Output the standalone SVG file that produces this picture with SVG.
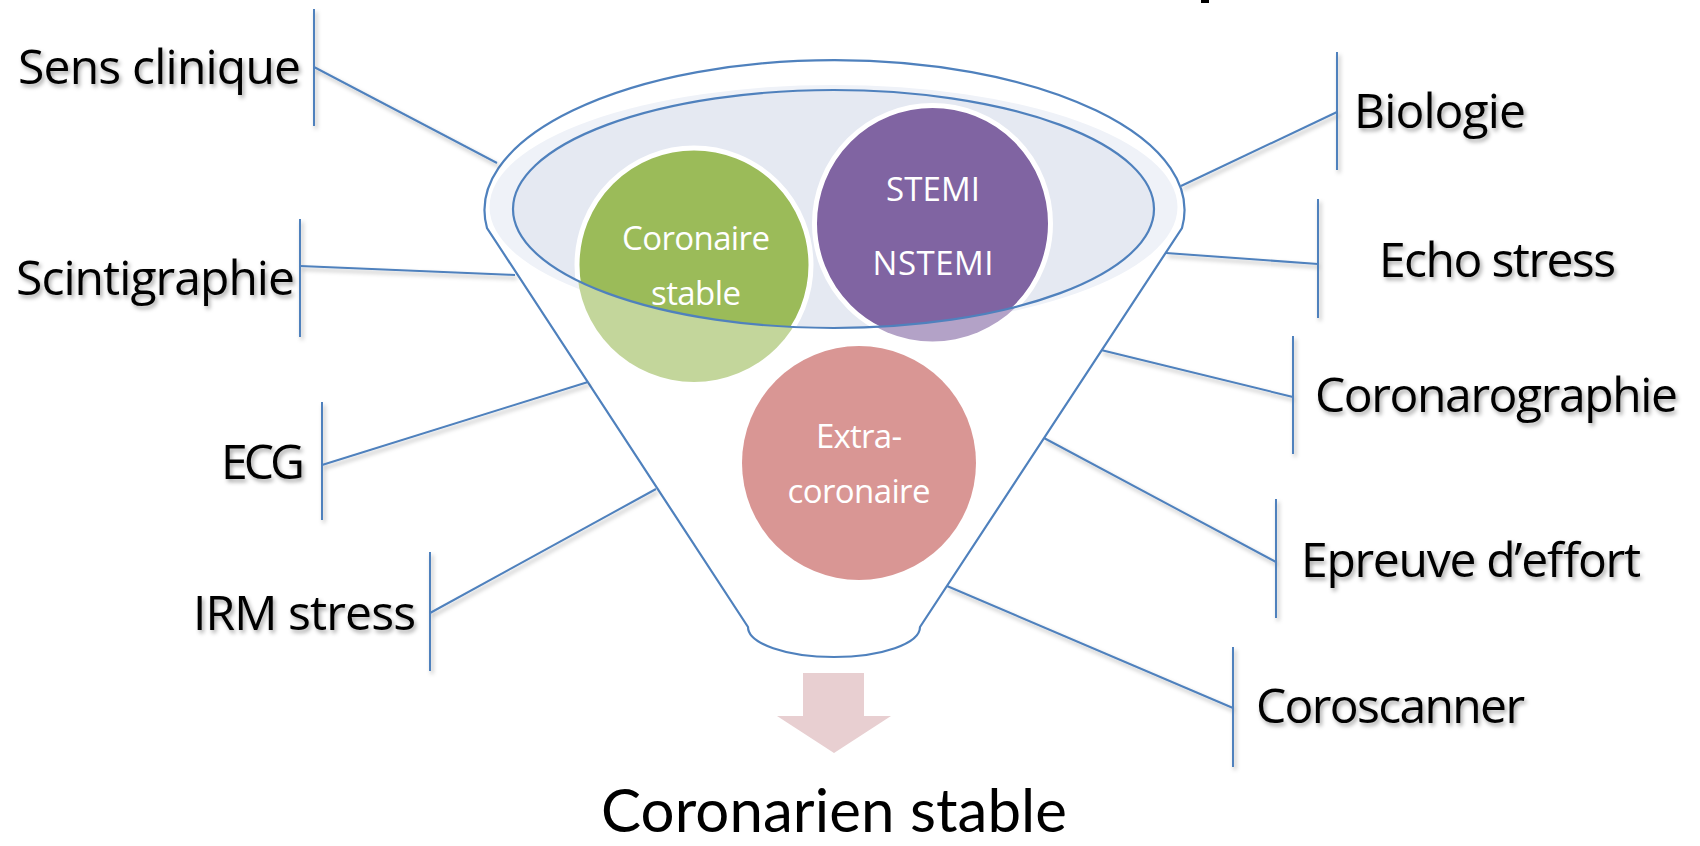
<svg xmlns="http://www.w3.org/2000/svg" width="1700" height="846" viewBox="0 0 1700 846">
<style>
.lbl{font-family:"Open Sans","Noto Sans","Liberation Sans",sans-serif;font-size:48px;fill:#000;filter:url(#tsh)}
.ctx{font-family:"Open Sans","Noto Sans","Liberation Sans",sans-serif;font-size:33px;fill:#fff;text-anchor:middle}
.res{font-family:Lato,"Open Sans","Liberation Sans",sans-serif;font-size:60px;fill:#000}
.con line{stroke:#4f81bd;stroke-width:2;fill:none}
.rim{fill:none;stroke:#4f81bd;stroke-width:2.2}
</style>
<defs>
<filter id="tsh" x="-10%" y="-30%" width="130%" height="180%">
<feDropShadow dx="2" dy="3" stdDeviation="2" flood-color="#000" flood-opacity="0.35"/>
</filter>
<filter id="lsh" x="-10%" y="-10%" width="130%" height="130%">
<feDropShadow dx="2" dy="3" stdDeviation="2" flood-color="#000" flood-opacity="0.3"/>
</filter>
<clipPath id="inner"><ellipse cx="833.5" cy="209" rx="320.5" ry="119"/></clipPath>
</defs>
<rect width="1700" height="846" fill="#fff"/>
<rect x="1201" y="0" width="8" height="3" fill="#000"/>

<g id="funnel">
<ellipse cx="833.5" cy="207" rx="344" ry="122" fill="#eff2f8"/>
<ellipse cx="833.5" cy="209" rx="320.5" ry="119" fill="#e5e9f2"/>
</g>

<g id="coronaire-stable">
<circle cx="694" cy="265" r="117" fill="#c3d69b"/>
<circle cx="694" cy="265" r="117" fill="#9bbb59" stroke="#fff" stroke-width="5" clip-path="url(#inner)"/>
<text class="ctx" x="696" y="250" textLength="148">Coronaire</text>
<text class="ctx" x="696" y="305" textLength="90">stable</text>
</g>

<g id="stemi">
<circle cx="932.5" cy="223.5" r="118" fill="#b3a2c7"/>
<circle cx="932.5" cy="223.5" r="118" fill="#8064a2" stroke="#fff" stroke-width="5" clip-path="url(#inner)"/>
<text class="ctx" x="933" y="201" textLength="94">STEMI</text>
<text class="ctx" x="933" y="275" textLength="121">NSTEMI</text>
</g>

<g id="extra-coronaire">
<circle cx="859" cy="463" r="117" fill="#d99694"/>
<text class="ctx" x="859" y="448" textLength="86">Extra-</text>
<text class="ctx" x="859" y="503" textLength="143">coronaire</text>
</g>

<g id="funnel-outline">
<ellipse class="rim" cx="833.5" cy="209" rx="320.5" ry="119"/>
<path class="rim" d="M 487 228 A 350 150 0 1 1 1182 228 L 920 627 A 86 30 0 0 1 748 627 Z"/>
</g>

<g id="arrow">
<polygon points="803,673 864,673 864,716 891,716 834,753 777,716 803,716" fill="#e8cfd1"/>
</g>

<g class="con" id="connectors" filter="url(#lsh)">
<line x1="314" y1="9" x2="314" y2="126"/><line x1="314" y1="67" x2="497" y2="163"/>
<line x1="300" y1="219" x2="300" y2="337"/><line x1="300" y1="266" x2="515" y2="275"/>
<line x1="322" y1="402" x2="322" y2="520"/><line x1="322" y1="465" x2="588" y2="382"/>
<line x1="430" y1="552" x2="430" y2="671"/><line x1="430" y1="613" x2="656" y2="489"/>
<line x1="1337" y1="52" x2="1337" y2="170"/><line x1="1337" y1="112" x2="1181" y2="186"/>
<line x1="1318" y1="199" x2="1318" y2="318"/><line x1="1318" y1="264" x2="1166" y2="253"/>
<line x1="1293" y1="336" x2="1293" y2="454"/><line x1="1293" y1="397" x2="1101" y2="350"/>
<line x1="1276" y1="499" x2="1276" y2="618"/><line x1="1276" y1="562" x2="1044" y2="438"/>
<line x1="1233" y1="647" x2="1233" y2="767"/><line x1="1233" y1="708" x2="947" y2="586"/>
</g>

<g id="label-sens-clinique"><text class="lbl" x="18" y="84" textLength="283">Sens clinique</text></g>
<g id="label-scintigraphie"><text class="lbl" x="16" y="295" textLength="279">Scintigraphie</text></g>
<g id="label-ecg"><text class="lbl" x="221" y="479" textLength="84">ECG</text></g>
<g id="label-irm-stress"><text class="lbl" x="193" y="630" textLength="223">IRM stress</text></g>
<g id="label-biologie"><text class="lbl" x="1354" y="128" textLength="172">Biologie</text></g>
<g id="label-echo-stress"><text class="lbl" x="1379" y="277" textLength="237">Echo stress</text></g>
<g id="label-coronarographie"><text class="lbl" x="1315" y="412" textLength="363">Coronarographie</text></g>
<g id="label-epreuve"><text class="lbl" x="1301" y="577" textLength="340">Epreuve d’effort</text></g>
<g id="label-coroscanner"><text class="lbl" x="1256" y="723" textLength="269">Coroscanner</text></g>
<g id="label-result"><text class="res" x="601" y="832" textLength="466">Coronarien stable</text></g>
</svg>
